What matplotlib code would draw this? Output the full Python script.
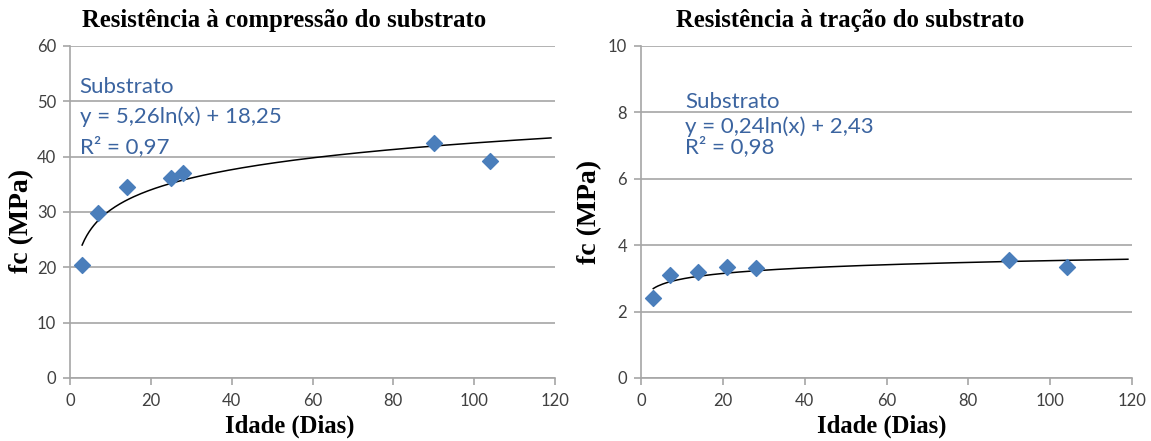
import numpy as np
import matplotlib.pyplot as plt

# Compression (left)
dias_comp = [3, 7, 14, 25, 28, 90, 104]
fc_comp = [20.5, 29.8, 34.6, 36.1, 37.1, 42.5, 39.2]
coef_comp = (5.26, 18.25)

# Tension (right)
dias_trac = [3, 7, 14, 21, 28, 90, 104]
fc_trac = [2.4, 3.1, 3.2, 3.35, 3.3, 3.55, 3.35]
coef_trac = (0.24, 2.43)

x_ticks = [0, 20, 40, 60, 80, 100, 120]
y_ticks_comp = [0, 10, 20, 30, 40, 50, 60]
y_ticks_trac = [0, 2, 4, 6, 8, 10]

blue = '#4A7EBB'
text_blue = '#3B64A0'
grid_gray = '#A6A6A6'
serif = ['Liberation Serif', 'DejaVu Serif']

W, H = 1151, 441
fig = plt.figure(figsize=(W / 100, H / 100), dpi=100)
ax1 = fig.add_axes([70 / W, 1 - 378 / H, 485 / W, 332 / H])
ax2 = fig.add_axes([641 / W, 1 - 378 / H, 491 / W, 332 / H])


def style(ax, yticks):
    ax.set_xlim(0, 120)
    ax.set_ylim(yticks[0], yticks[-1])
    ax.set_xticks(x_ticks)
    ax.set_yticks(yticks)
    ax.grid(True, axis='y', color=grid_gray, linewidth=1.2)
    ax.set_axisbelow(True)
    for s in ['top', 'right']:
        ax.spines[s].set_visible(False)
    for s in ['left', 'bottom']:
        ax.spines[s].set_color(grid_gray)
        ax.spines[s].set_linewidth(1.2)
    ax.tick_params(colors=grid_gray, labelcolor='#404040', labelsize=12,
                   length=5, width=1.2, direction='out')
    ax.tick_params(axis='x', pad=6)
    ax.tick_params(axis='y', pad=5)
    for lab in ax.get_xticklabels() + ax.get_yticklabels():
        lab.set_family('Lato')


for ax, x, y, coef, yt in [(ax1, dias_comp, fc_comp, coef_comp, y_ticks_comp),
                           (ax2, dias_trac, fc_trac, coef_trac, y_ticks_trac)]:
    style(ax, yt)
    xs = np.linspace(3, 119, 200)
    ax.plot(xs, coef[0] * np.log(xs) + coef[1], color='black', linewidth=1.1, zorder=2)
    ax.scatter(x, y, marker='D', s=65, color=blue, zorder=3, clip_on=False)

ann = dict(color=text_blue, fontsize=16, family='Lato', va='center')
ax1.text(0.02, 0.876, 'Substrato', transform=ax1.transAxes, **ann)
ax1.text(0.02, 0.788, 'y = 5,26ln(x) + 18,25', transform=ax1.transAxes, **ann)
ax1.text(0.02, 0.697, 'R² = 0,97', transform=ax1.transAxes, **ann)

ax2.text(0.09, 0.830, 'Substrato', transform=ax2.transAxes, **ann)
ax2.text(0.09, 0.758, 'y = 0,24ln(x) + 2,43', transform=ax2.transAxes, **ann)
ax2.text(0.09, 0.697, 'R² = 0,98', transform=ax2.transAxes, **ann)

# titles
title_kw = dict(family=serif, fontweight='bold', fontsize=17.8, ha='center', va='center')
fig.text(284 / W, 1 - 21 / H, 'Resistência à compressão do substrato', **title_kw)
fig.text(850 / W, 1 - 21 / H, 'Resistência à tração do substrato', **title_kw)

# axis labels
lab_kw = dict(family=serif, fontweight='bold', ha='center', va='center')
fig.text(290 / W, 1 - 426 / H, 'Idade (Dias)', fontsize=17.7, **lab_kw)
fig.text(882 / W, 1 - 426 / H, 'Idade (Dias)', fontsize=17.7, **lab_kw)
fig.text(22 / W, 1 - 221 / H, 'fc (MPa)', fontsize=20, rotation=90, **lab_kw)
fig.text(590 / W, 1 - 212 / H, 'fc (MPa)', fontsize=20, rotation=90, **lab_kw)

fig.savefig('out.png', dpi=100)
